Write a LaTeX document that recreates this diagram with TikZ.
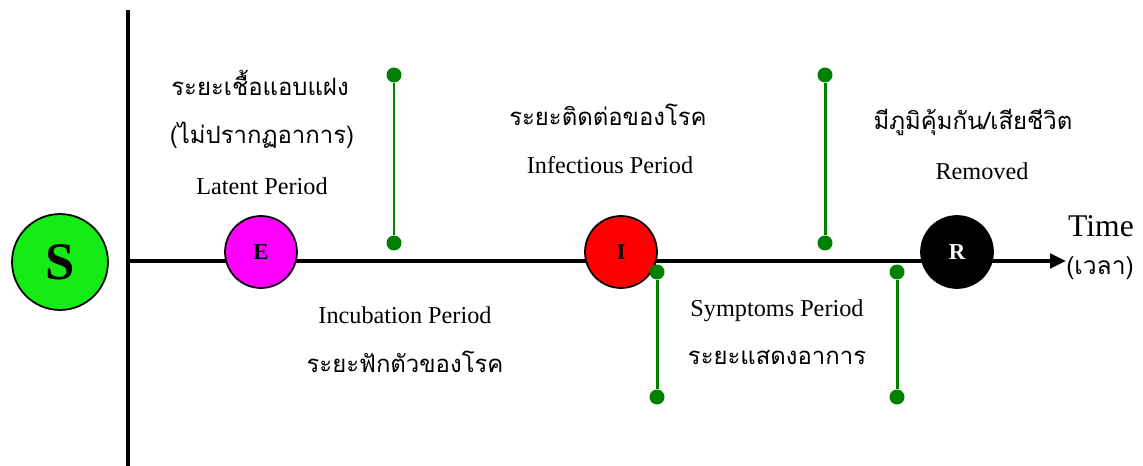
\documentclass[tikz,border=0pt]{standalone}
\usepackage{fontspec}
\setmainfont{Liberation Serif}
\newfontfamily\thaifont[Script=Thai]{Loma}
\usetikzlibrary{arrows.meta,positioning}
\definecolor{sgreen}{RGB}{20,235,20}
\definecolor{emag}{RGB}{255,0,255}
\definecolor{ired}{RGB}{255,0,0}
\definecolor{stemgreen}{RGB}{0,128,0}

\begin{document}
\begin{tikzpicture}[
                x=0.02cm, y=-0.02cm,
                state/.style={circle, draw=black, line width=1pt, minimum size=1.44cm, inner sep=0pt, font=\bfseries\fontsize{13}{13}\selectfont},
                dot/.style={circle, fill=stemgreen, minimum size=0.3cm, inner sep=0pt},
                stem/.style={draw=stemgreen, line width=1.7pt},
                axis/.style={draw, line width=2.4pt},
                eng/.style={font=\fontsize{13.8}{15}\selectfont},
                thai/.style={font=\thaifont\fontsize{13.6}{16}\selectfont},
            ]
            \useasboundingbox (0,0) rectangle (1143,466);

            % ── Axes ──────────────────────────────────────────────
            \coordinate (vtop) at (128,10);
            \coordinate (vbot) at (128,466);
            \coordinate (tstart) at (128,261);
            \coordinate (tend)   at (1066,261);
            \draw[axis] (vtop) -- (vbot);
            \draw[axis, -{Triangle[length=9pt, width=8pt]}] (tstart) -- (tend);
            \node[font=\fontsize{18}{18}\selectfont] (time) at (1101,226) {Time};
            \node[font=\thaifont\fontsize{14}{16}\selectfont] (timeth) at (1100,268) {(เวลา)};

            % ── States ────────────────────────────────────────────
            \node[state, fill=sgreen, minimum size=1.92cm, font=\bfseries\fontsize{30}{30}\selectfont] (S) at (60,262) {S};
            \node[state, fill=emag] (E) at (261,252) {E};
            \node[state, fill=ired] (I) at (621,252) {I};
            \node[state, fill=black, text=white] (R) at (957,252) {R};

            % ── Period markers ────────────────────────────────────
            \node[dot] (m1top) at (394,75)  {};
            \node[dot] (m1bot) at (394,243) {};
            \node[dot] (m2top) at (825,75)  {};
            \node[dot] (m2bot) at (825,243) {};
            \node[dot] (m3top) at (657,272) {};
            \node[dot] (m3bot) at (657,397) {};
            \node[dot] (m4top) at (897,272) {};
            \node[dot] (m4bot) at (897,397) {};
            \draw[stem] (m1top) -- (m1bot);
            \draw[stem] (m2top) -- (m2bot);
            \draw[stem] (m3top) -- (m3bot);
            \draw[stem] (m4top) -- (m4bot);

            % ── Labels above the axis ─────────────────────────────
            \node[thai] (latth)  at (260,83)  {ระยะเชื้อแอบแฝง};
            \node[thai] (latth2) at (262,135) {(ไม่ปรากฏอาการ)};
            \node[eng]  (lat)    at (262,186) {Latent Period};
            \node[thai] (infth)  at (608,115) {ระยะติดต่อของโรค};
            \node[eng]  (inf)    at (610,165) {Infectious Period};
            \node[thai] (remth)  at (973,122) {มีภูมิคุ้มกัน/เสียชีวิต};
            \node[eng]  (rem)    at (982,171) {Removed};

            % ── Labels below the axis ─────────────────────────────
            \node[eng]  (inc)    at (405,315) {Incubation Period};
            \node[thai] (incth)  at (405,362) {ระยะฟักตัวของโรค};
            \node[eng]  (sym)    at (777,311) {Symptoms Period};
            \node[thai] (symth)  at (777,358) {ระยะแสดงอาการ};
        \end{tikzpicture}
\end{document}
